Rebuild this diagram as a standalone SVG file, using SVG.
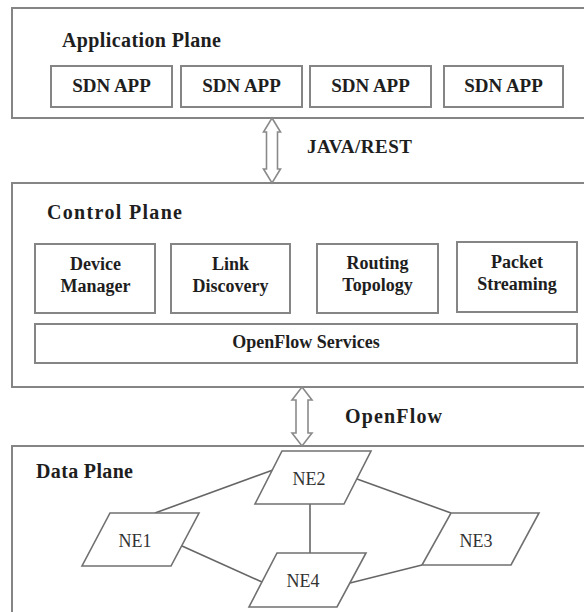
<svg xmlns="http://www.w3.org/2000/svg" width="584" height="612" viewBox="0 0 584 612">
<style>
.plane{fill:#fff;stroke:#858585;stroke-width:2}
.box{fill:#fff;stroke:#858585;stroke-width:2}
.ne{fill:#fff;stroke:#707070;stroke-width:1.6}
.arr{fill:#fff;stroke:#8a8a8a;stroke-width:1.6;stroke-linejoin:miter}
.link{stroke:#666;stroke-width:1.6;fill:none}
text{fill:#1e1e1e;font-family:"Times New Roman",Times,"Liberation Serif",serif}
.t{font-weight:bold;font-size:20px}
.b{font-weight:bold;font-size:19px;text-anchor:middle}
.m{font-weight:bold;font-size:18px;text-anchor:middle}
.n{font-size:18px;text-anchor:middle;fill:#333}
</style>
<rect width="584" height="612" fill="#fff"/>
<g id="application-plane">
<rect class="plane" x="12" y="8" width="580" height="110"/>
<text class="t" x="62" y="47" textLength="159" lengthAdjust="spacing">Application Plane</text>
</g>
<g id="app1"><rect class="box" x="51" y="66" width="121" height="41"/><text class="b" x="111.5" y="92">SDN APP</text></g>
<g id="app2"><rect class="box" x="181" y="66" width="121" height="41"/><text class="b" x="241.5" y="92">SDN APP</text></g>
<g id="app3"><rect class="box" x="310" y="66" width="121" height="41"/><text class="b" x="370.5" y="92">SDN APP</text></g>
<g id="app4"><rect class="box" x="444" y="66" width="119" height="41"/><text class="b" x="503.5" y="92">SDN APP</text></g>
<g id="control-plane">
<rect class="plane" x="12" y="183" width="580" height="204"/>
<text class="t" x="47" y="219" textLength="135" lengthAdjust="spacing">Control Plane</text>
</g>
<g id="device-manager"><rect class="box" x="35" y="244" width="120" height="69"/><text class="m" x="95.5" y="270">Device</text><text class="m" x="95.5" y="292">Manager</text></g>
<g id="link-discovery"><rect class="box" x="171" y="244" width="119" height="69"/><text class="m" x="230.5" y="270">Link</text><text class="m" x="230.5" y="292">Discovery</text></g>
<g id="routing-topology"><rect class="box" x="317" y="244" width="121" height="69"/><text class="m" x="377.5" y="269">Routing</text><text class="m" x="377.5" y="291">Topology</text></g>
<g id="packet-streaming"><rect class="box" x="457" y="242" width="120" height="70"/><text class="m" x="517" y="268">Packet</text><text class="m" x="517" y="290">Streaming</text></g>
<g id="openflow-services"><rect class="box" x="35" y="324" width="542" height="39"/><text class="m" x="306" y="348">OpenFlow Services</text></g>
<g id="data-plane">
<rect class="plane" x="12" y="446" width="580" height="180"/>
<text class="t" x="36" y="478" textLength="97" lengthAdjust="spacing">Data Plane</text>
</g>
<g id="connectors">
<polygon class="arr" points="272,118 280.5,132 277.5,132 277.5,169 280.5,169 272,183 263.5,169 266.5,169 266.5,132 263.5,132"/>
<text class="t" x="307" y="153" textLength="105" lengthAdjust="spacing" style="font-size:19px">JAVA/REST</text>
<polygon class="arr" points="302,387 312,400 308,400 308,433 312,433 302,446 292,433 296,433 296,400 292,400"/>
<text class="t" x="345" y="423" textLength="97" lengthAdjust="spacing">OpenFlow</text>
<line class="link" x1="155" y1="513" x2="273" y2="470"/>
<line class="link" x1="310" y1="504" x2="310" y2="553"/>
<line class="link" x1="182" y1="546" x2="262" y2="582"/>
<line class="link" x1="357" y1="479" x2="451" y2="513"/>
<line class="link" x1="350" y1="583" x2="422" y2="565"/>
</g>
<g id="ne1"><polygon class="ne" points="110,513 199,513 171,566 82,566"/><text class="n" x="135" y="547">NE1</text></g>
<g id="ne2"><polygon class="ne" points="282,451 371,451 344,504 255,504"/><text class="n" x="309" y="485">NE2</text></g>
<g id="ne3"><polygon class="ne" points="451,513 539,513 511,565 422,565"/><text class="n" x="476" y="547">NE3</text></g>
<g id="ne4"><polygon class="ne" points="277,553 366,553 337,607 249,607"/><text class="n" x="303" y="587">NE4</text></g>
</svg>
